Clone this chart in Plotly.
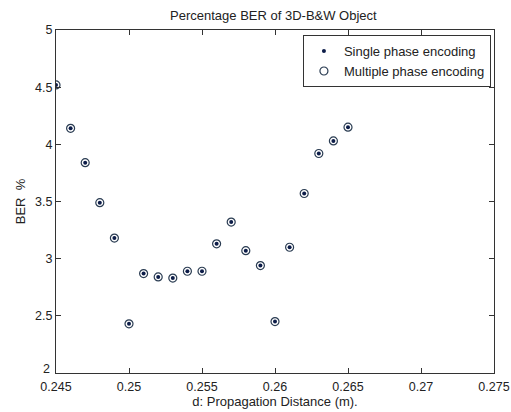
import plotly.graph_objects as go

distance = [0.245, 0.246, 0.247, 0.248, 0.249, 0.250, 0.251, 0.252, 0.253, 0.254, 0.255,
            0.256, 0.257, 0.258, 0.259, 0.260, 0.261, 0.262, 0.263, 0.264, 0.265]
ber_single = [4.52, 4.14, 3.84, 3.49, 3.18, 2.43, 2.87, 2.84, 2.83, 2.89, 2.89,
              3.13, 3.32, 3.07, 2.94, 2.45, 3.10, 3.57, 3.92, 4.03, 4.15]
ber_multiple = list(ber_single)

x_ticks = [0.245, 0.25, 0.255, 0.26, 0.265, 0.27, 0.275]
x_tick_labels = ["0.245", "0.25", "0.255", "0.26", "0.265", "0.27", "0.275"]
y_ticks = [2, 2.5, 3, 3.5, 4, 4.5, 5]
y_tick_labels = ["2", "2.5", "3", "3.5", "4", "4.5", "5"]

FONT = "Liberation Sans, Arial, sans-serif"
TXT = "#222222"

fig = go.Figure()
fig.add_trace(go.Scatter(
    x=distance, y=ber_single, mode="markers", name="Single phase encoding",
    marker=dict(symbol="circle", size=4, color="#0c1c48"),
))
fig.add_trace(go.Scatter(
    x=distance, y=ber_multiple, mode="markers", name="Multiple phase encoding",
    marker=dict(symbol="circle-open", size=8, color="#2a3c52", line=dict(width=1.2)),
))

axis_common = dict(
    showgrid=False, zeroline=False, showline=True, linecolor="#333333", linewidth=1,
    mirror="ticks", ticks="inside", ticklen=5, tickcolor="#333333", automargin=False,
    tickfont=dict(family=FONT, size=12.5, color=TXT),
)

# the lowest y label sits slightly raised, as in the reference, so it clears the x labels
y_text_shown = ["" if v == y_ticks[0] else t for v, t in zip(y_ticks, y_tick_labels)]

fig.update_layout(
    width=511, height=412,
    margin=dict(l=56, r=17, t=30, b=39),
    paper_bgcolor="white", plot_bgcolor="white",
    font=dict(family=FONT, size=12, color=TXT),
    title=dict(text="Percentage BER of 3D-B&W Object", x=0.535, xanchor="center",
               y=0.963, yanchor="middle", font=dict(family=FONT, size=13, color=TXT)),
    xaxis=dict(range=[0.245, 0.275], tickvals=x_ticks, ticktext=x_tick_labels,
               title=dict(text="d: Propagation Distance (m).", standoff=2,
                          font=dict(family=FONT, size=13, color=TXT)),
               ticklabelstandoff=2,
               **axis_common),
    yaxis=dict(range=[2, 5], tickvals=y_ticks, ticktext=y_text_shown,
               title=dict(text="BER  %", standoff=6, font=dict(family=FONT, size=13, color=TXT)),
               **axis_common),
    legend=dict(x=0.993, xanchor="right", y=0.985, yanchor="top",
                bordercolor="#333333", borderwidth=1, bgcolor="white",
                font=dict(family=FONT, size=13, color=TXT),
                itemwidth=30, tracegroupgap=0),
    showlegend=True,
    annotations=[dict(x=0, xref="paper", xanchor="right", xshift=-4,
                      y=y_ticks[0], yref="y", yanchor="middle", yshift=4,
                      text=y_tick_labels[0], showarrow=False,
                      font=dict(family=FONT, size=12.5, color=TXT))],
)

fig.write_html("out.html", config={"displayModeBar": False},
               post_script="document.body.style.margin='0';")
